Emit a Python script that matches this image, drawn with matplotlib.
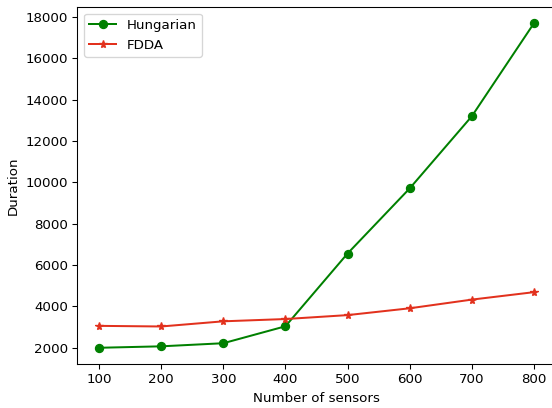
import matplotlib
matplotlib.use("Agg")
import matplotlib.pyplot as plt

sensors = [100, 200, 300, 400, 500, 600, 700, 800]
hungarian = [2000, 2070, 2220, 3040, 6560, 9710, 13200, 17700]
fdda = [3060, 3030, 3280, 3390, 3580, 3910, 4330, 4690]

DPI = 96
fig = plt.figure(figsize=(552 / DPI, 408 / DPI), dpi=DPI)
ax = fig.add_axes([77.3 / 552, 44 / 408, 478.4 / 552, 357 / 408])
ax.plot(sensors, hungarian, color="green", marker="o", label="Hungarian")
ax.plot(sensors, fdda, color="#e2311d", marker="*", label="FDDA")
ax.set_xlabel("Number of sensors")
ax.set_ylabel("Duration")
ax.legend(loc="upper left")
fig.savefig("out.png", dpi=DPI)
